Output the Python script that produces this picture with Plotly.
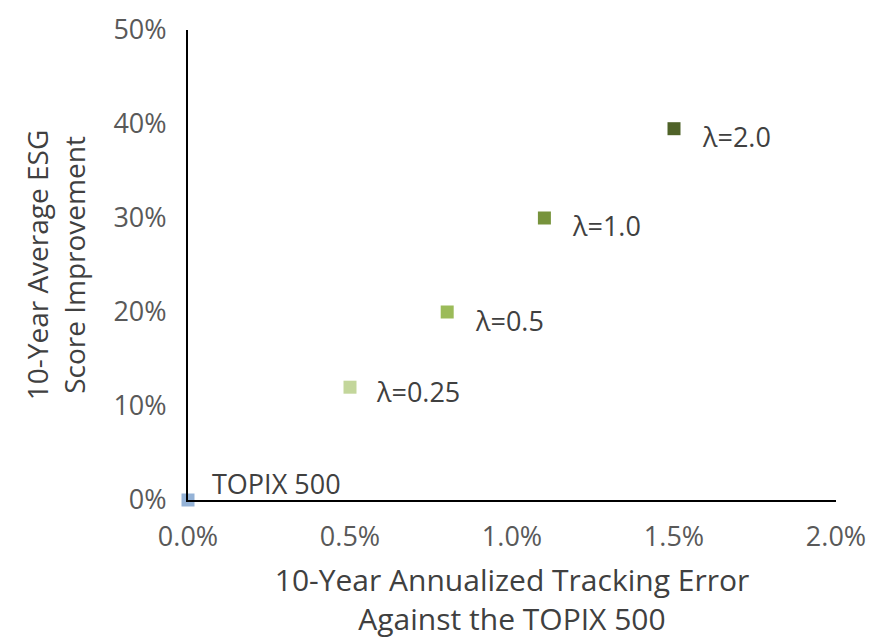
import plotly.graph_objects as go

labels = ["TOPIX 500", "λ=0.25", "λ=0.5", "λ=1.0", "λ=2.0"]
tracking_error = [0.0, 0.005, 0.0080, 0.0110, 0.0150]
esg_improvement = [0.0, 0.12, 0.20, 0.30, 0.395]
colors = ["#95b3d7", "#c3d69b", "#9bbb59", "#77933c", "#4f6228"]
label_dx = [22, 24, 26, 26, 26]
label_dy = [17, -4, -8, -7, -8]

x_ticks = [0.0, 0.005, 0.010, 0.015, 0.020]
x_tick_labels = ["0.0%", "0.5%", "1.0%", "1.5%", "2.0%"]
y_ticks = [0.0, 0.1, 0.2, 0.3, 0.4, 0.5]
y_tick_labels = ["0%", "10%", "20%", "30%", "40%", "50%"]

font_family = "Open Sans, Liberation Sans, sans-serif"

fig = go.Figure()
fig.add_trace(go.Scatter(
    x=tracking_error, y=esg_improvement,
    mode="markers",
    marker=dict(symbol="square", size=13, color=colors, line=dict(width=0)),
    cliponaxis=False,
    showlegend=False,
))

for x, y, t, dx, dy in zip(tracking_error, esg_improvement, labels, label_dx, label_dy):
    fig.add_annotation(
        x=x, y=y, text=t, showarrow=False,
        xanchor="left", yanchor="middle", xshift=dx, yshift=dy,
        font=dict(size=27, color="#404040", family=font_family),
    )

fig.update_layout(
    width=870, height=631,
    margin=dict(l=180, r=42, t=22, b=139, autoexpand=False),
    plot_bgcolor="white", paper_bgcolor="white",
    font=dict(family=font_family, size=27, color="#595959"),
    xaxis=dict(
        range=[0, 0.02], tickvals=x_ticks, ticktext=x_tick_labels,
        showgrid=False, zeroline=False, showline=True, linecolor="black", linewidth=2,
        ticks="", ticklabelstandoff=12, tickfont=dict(size=27, color="#595959"),
        automargin=False,
        title=dict(text="10-Year Annualized Tracking Error<br>Against the TOPIX 500",
                   font=dict(size=30, color="#404040"), standoff=19),
    ),
    yaxis=dict(
        range=[0, 0.5], tickvals=y_ticks, ticktext=y_tick_labels,
        showgrid=False, zeroline=False, showline=True, linecolor="black", linewidth=2,
        ticks="", ticklabelstandoff=14, tickfont=dict(size=27, color="#595959"),
        automargin=False,
        title=dict(text="10-Year Average ESG<br>Score Improvement",
                   font=dict(size=28, color="#404040"), standoff=20),
    ),
)

fig.write_html("out.html")
